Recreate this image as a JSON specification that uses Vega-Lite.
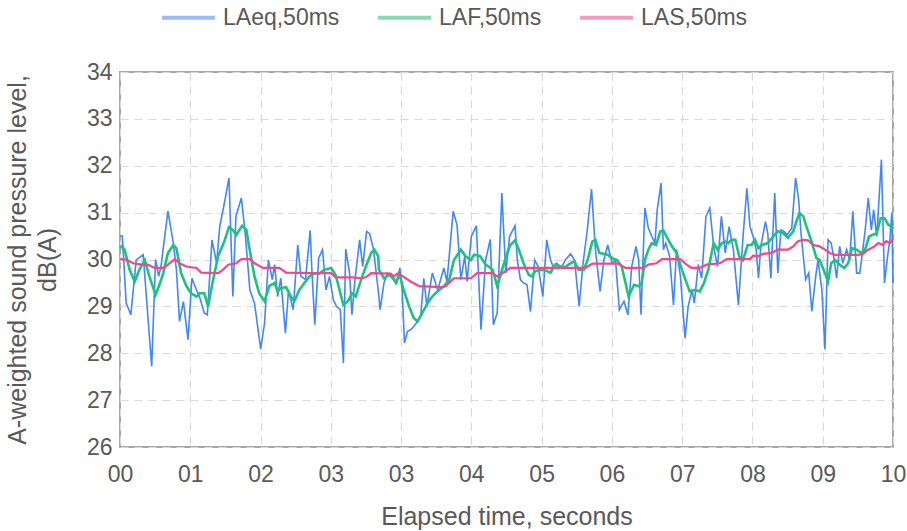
{
  "$schema": "https://vega.github.io/schema/vega-lite/v6.json",
  "width": 773,
  "height": 375,
  "autosize": {"type": "none"},
  "padding": {"left": 120, "top": 72, "right": 14, "bottom": 84},
  "background": "white",
  "config": {
    "font": "Liberation Sans, sans-serif",
    "view": {"stroke": "#A6A6A6", "strokeWidth": 2},
    "axis": {
      "grid": true, "gridColor": "#D9D9D9", "gridDash": [8, 6], "gridWidth": 1.2,
      "domain": false, "ticks": false,
      "labelColor": "#595959", "labelFontSize": 23,
      "titleColor": "#595959", "titleFontSize": 25, "titleFontWeight": "normal"
    }
  },
  "encoding": {
    "x": {
      "field": "t", "type": "quantitative",
      "scale": {"domain": [0, 10], "nice": false, "zero": false},
      "axis": {
        "title": "Elapsed time, seconds",
        "values": [0, 0.90909, 1.81818, 2.72727, 3.63636, 4.54545, 5.45455, 6.36364, 7.27273, 8.18182, 9.09091, 10],
        "labelExpr": "['00','01','02','03','03','04','05','06','07','08','09','10'][round(datum.value*1.1)]",
        "labelPadding": 16, "titlePadding": 18, "labelFlush": false
      }
    },
    "y": {
      "field": "v", "type": "quantitative",
      "scale": {"domain": [26, 34], "nice": false, "zero": false},
      "axis": {
        "title": ["A-weighted sound pressure level,", "dB(A)"],
        "values": [26, 27, 28, 29, 30, 31, 32, 33, 34],
        "labelPadding": 8, "titlePadding": 26, "titleLineHeight": 30
      }
    },
    "color": {
      "type": "nominal",
      "scale": {"domain": ["LAeq,50ms", "LAF,50ms", "LAS,50ms"], "range": ["#4287F5", "#20C07E", "#F2478A"]},
      "legend": {
        "orient": "none", "legendX": 40, "legendY": -83, "direction": "horizontal",
        "title": null, "symbolType": "stroke", "symbolSize": 2800, "symbolStrokeWidth": 4,
        "symbolOpacity": 0.55, "labelFontSize": 23, "labelColor": "#595959",
        "labelOffset": 6, "columnPadding": 30
      }
    }
  },
  "layer": [
    {
      "mark": {"type": "line", "strokeWidth": 1.6, "interpolate": "linear"},
      "encoding": {"color": {"datum": "LAeq,50ms"}},
      "data": {"values": [
        {"t":0.00,"v":30.50},{"t":0.03,"v":30.50},{"t":0.08,"v":29.07},{"t":0.14,"v":28.82},{"t":0.21,"v":29.99},{"t":0.30,"v":30.10},{"t":0.41,"v":27.72},{"t":0.46,"v":30.00},{"t":0.50,"v":29.64},{"t":0.53,"v":29.85},{"t":0.62,"v":31.03},{"t":0.69,"v":30.35},{"t":0.73,"v":29.78},{"t":0.77,"v":28.68},{"t":0.82,"v":29.10},{"t":0.88,"v":28.29},{"t":0.93,"v":29.60},{"t":0.99,"v":29.35},{"t":1.03,"v":29.20},{"t":1.09,"v":28.86},{"t":1.13,"v":28.82},{"t":1.19,"v":30.42},{"t":1.25,"v":29.92},{"t":1.29,"v":30.70},{"t":1.35,"v":31.20},{"t":1.41,"v":31.74},{"t":1.46,"v":29.21},{"t":1.50,"v":30.92},{"t":1.57,"v":31.31},{"t":1.62,"v":30.56},{"t":1.68,"v":29.35},{"t":1.74,"v":29.07},{"t":1.82,"v":28.09},{"t":1.87,"v":28.64},{"t":1.92,"v":29.99},{"t":1.97,"v":29.57},{"t":2.00,"v":29.89},{"t":2.04,"v":29.21},{"t":2.08,"v":29.60},{"t":2.14,"v":28.43},{"t":2.18,"v":29.35},{"t":2.24,"v":28.93},{"t":2.30,"v":30.31},{"t":2.34,"v":29.64},{"t":2.40,"v":29.57},{"t":2.46,"v":30.62},{"t":2.48,"v":29.85},{"t":2.52,"v":28.61},{"t":2.57,"v":30.03},{"t":2.62,"v":30.21},{"t":2.665,"v":29.35},{"t":2.71,"v":29.64},{"t":2.76,"v":29.14},{"t":2.80,"v":29.00},{"t":2.85,"v":28.93},{"t":2.89,"v":27.79},{"t":2.92,"v":30.22},{"t":2.97,"v":29.71},{"t":3.00,"v":28.82},{"t":3.04,"v":29.57},{"t":3.10,"v":30.42},{"t":3.14,"v":29.85},{"t":3.19,"v":30.60},{"t":3.23,"v":30.55},{"t":3.28,"v":30.21},{"t":3.34,"v":29.35},{"t":3.365,"v":28.93},{"t":3.415,"v":29.50},{"t":3.46,"v":29.71},{"t":3.52,"v":29.60},{"t":3.58,"v":29.50},{"t":3.62,"v":29.82},{"t":3.65,"v":29.35},{"t":3.68,"v":28.22},{"t":3.72,"v":28.47},{"t":3.76,"v":28.50},{"t":3.80,"v":28.57},{"t":3.85,"v":28.68},{"t":3.89,"v":28.79},{"t":3.93,"v":29.60},{"t":3.97,"v":29.00},{"t":4.04,"v":29.71},{"t":4.11,"v":29.35},{"t":4.19,"v":29.82},{"t":4.23,"v":29.53},{"t":4.31,"v":31.03},{"t":4.36,"v":30.74},{"t":4.41,"v":29.57},{"t":4.46,"v":30.07},{"t":4.49,"v":29.53},{"t":4.545,"v":30.49},{"t":4.61,"v":30.72},{"t":4.67,"v":28.50},{"t":4.73,"v":29.99},{"t":4.79,"v":30.43},{"t":4.83,"v":28.61},{"t":4.88,"v":28.86},{"t":4.94,"v":31.42},{"t":4.99,"v":29.71},{"t":5.04,"v":30.49},{"t":5.11,"v":30.72},{"t":5.14,"v":29.99},{"t":5.18,"v":29.57},{"t":5.22,"v":29.50},{"t":5.265,"v":29.46},{"t":5.31,"v":28.89},{"t":5.365,"v":29.99},{"t":5.41,"v":29.85},{"t":5.47,"v":29.21},{"t":5.52,"v":30.42},{"t":5.57,"v":29.99},{"t":5.61,"v":29.82},{"t":5.65,"v":29.92},{"t":5.71,"v":29.82},{"t":5.76,"v":29.99},{"t":5.83,"v":30.12},{"t":5.88,"v":29.99},{"t":5.94,"v":29.00},{"t":5.99,"v":29.92},{"t":6.04,"v":30.56},{"t":6.10,"v":31.50},{"t":6.15,"v":30.21},{"t":6.21,"v":29.32},{"t":6.26,"v":29.99},{"t":6.31,"v":30.31},{"t":6.365,"v":29.92},{"t":6.41,"v":29.99},{"t":6.46,"v":28.93},{"t":6.52,"v":29.11},{"t":6.57,"v":28.82},{"t":6.62,"v":29.85},{"t":6.675,"v":30.28},{"t":6.71,"v":29.99},{"t":6.74,"v":28.82},{"t":6.79,"v":31.10},{"t":6.835,"v":30.67},{"t":6.88,"v":30.49},{"t":6.92,"v":30.35},{"t":6.95,"v":31.06},{"t":7.00,"v":31.63},{"t":7.03,"v":30.21},{"t":7.06,"v":30.35},{"t":7.11,"v":30.07},{"t":7.16,"v":29.03},{"t":7.20,"v":30.21},{"t":7.25,"v":29.64},{"t":7.31,"v":28.32},{"t":7.35,"v":29.00},{"t":7.40,"v":29.35},{"t":7.43,"v":29.07},{"t":7.48,"v":29.89},{"t":7.525,"v":29.60},{"t":7.58,"v":30.92},{"t":7.63,"v":31.10},{"t":7.68,"v":30.28},{"t":7.73,"v":29.85},{"t":7.78,"v":30.92},{"t":7.83,"v":30.14},{"t":7.88,"v":30.70},{"t":7.935,"v":30.21},{"t":8.00,"v":29.03},{"t":8.06,"v":30.49},{"t":8.11,"v":31.52},{"t":8.15,"v":30.70},{"t":8.19,"v":30.49},{"t":8.23,"v":30.21},{"t":8.26,"v":29.60},{"t":8.29,"v":30.28},{"t":8.35,"v":30.81},{"t":8.38,"v":30.56},{"t":8.42,"v":29.60},{"t":8.47,"v":31.42},{"t":8.51,"v":29.71},{"t":8.55,"v":30.63},{"t":8.59,"v":30.60},{"t":8.63,"v":30.53},{"t":8.69,"v":30.67},{"t":8.74,"v":31.74},{"t":8.78,"v":31.27},{"t":8.81,"v":30.56},{"t":8.87,"v":29.57},{"t":8.91,"v":29.71},{"t":8.95,"v":28.89},{"t":9.00,"v":29.64},{"t":9.03,"v":29.99},{"t":9.08,"v":29.35},{"t":9.12,"v":28.08},{"t":9.16,"v":30.42},{"t":9.20,"v":30.35},{"t":9.24,"v":29.99},{"t":9.27,"v":29.60},{"t":9.31,"v":30.28},{"t":9.35,"v":29.92},{"t":9.40,"v":30.21},{"t":9.44,"v":29.99},{"t":9.48,"v":31.03},{"t":9.53,"v":29.71},{"t":9.57,"v":29.71},{"t":9.61,"v":30.21},{"t":9.64,"v":30.63},{"t":9.68,"v":31.31},{"t":9.72,"v":30.63},{"t":9.75,"v":31.06},{"t":9.79,"v":30.49},{"t":9.85,"v":32.13},{"t":9.89,"v":29.50},{"t":9.93,"v":30.07},{"t":9.96,"v":30.42},{"t":9.985,"v":31.00},{"t":10.00,"v":29.50}
      ]}
    },
    {
      "mark": {"type": "line", "strokeWidth": 2.6, "interpolate": "linear"},
      "encoding": {"color": {"datum": "LAF,50ms"}},
      "data": {"values": [
        {"t":0.00,"v":30.24},{"t":0.02,"v":30.28},{"t":0.06,"v":30.21},{"t":0.125,"v":29.78},{"t":0.19,"v":29.53},{"t":0.25,"v":29.78},{"t":0.32,"v":29.99},{"t":0.38,"v":29.64},{"t":0.46,"v":29.25},{"t":0.51,"v":29.46},{"t":0.56,"v":29.71},{"t":0.62,"v":30.14},{"t":0.69,"v":30.31},{"t":0.73,"v":30.24},{"t":0.79,"v":29.71},{"t":0.86,"v":29.43},{"t":0.92,"v":29.28},{"t":0.99,"v":29.21},{"t":1.03,"v":29.28},{"t":1.09,"v":29.28},{"t":1.14,"v":29.00},{"t":1.20,"v":29.53},{"t":1.27,"v":30.07},{"t":1.35,"v":30.39},{"t":1.41,"v":30.69},{"t":1.46,"v":30.63},{"t":1.505,"v":30.53},{"t":1.58,"v":30.72},{"t":1.635,"v":30.63},{"t":1.67,"v":30.28},{"t":1.74,"v":29.64},{"t":1.80,"v":29.28},{"t":1.87,"v":29.11},{"t":1.93,"v":29.43},{"t":2.00,"v":29.50},{"t":2.04,"v":29.32},{"t":2.08,"v":29.39},{"t":2.15,"v":29.41},{"t":2.21,"v":29.21},{"t":2.255,"v":29.11},{"t":2.32,"v":29.35},{"t":2.385,"v":29.50},{"t":2.45,"v":29.64},{"t":2.51,"v":29.70},{"t":2.58,"v":29.70},{"t":2.64,"v":29.78},{"t":2.73,"v":29.82},{"t":2.79,"v":29.67},{"t":2.84,"v":29.35},{"t":2.89,"v":29.03},{"t":2.95,"v":29.11},{"t":3.00,"v":29.28},{"t":3.05,"v":29.21},{"t":3.12,"v":29.57},{"t":3.18,"v":29.85},{"t":3.25,"v":30.14},{"t":3.29,"v":30.21},{"t":3.34,"v":30.07},{"t":3.35,"v":29.78},{"t":3.415,"v":29.60},{"t":3.48,"v":29.67},{"t":3.52,"v":29.64},{"t":3.57,"v":29.50},{"t":3.60,"v":29.64},{"t":3.63,"v":29.60},{"t":3.67,"v":29.35},{"t":3.74,"v":29.00},{"t":3.80,"v":28.75},{"t":3.85,"v":28.68},{"t":3.91,"v":28.86},{"t":3.98,"v":29.07},{"t":4.04,"v":29.21},{"t":4.105,"v":29.32},{"t":4.19,"v":29.43},{"t":4.26,"v":29.57},{"t":4.32,"v":29.99},{"t":4.41,"v":30.21},{"t":4.47,"v":30.07},{"t":4.54,"v":29.99},{"t":4.58,"v":30.10},{"t":4.66,"v":30.07},{"t":4.73,"v":29.89},{"t":4.77,"v":29.85},{"t":4.82,"v":29.78},{"t":4.88,"v":29.43},{"t":4.95,"v":29.82},{"t":5.01,"v":30.14},{"t":5.05,"v":30.31},{"t":5.11,"v":30.41},{"t":5.16,"v":30.21},{"t":5.22,"v":29.92},{"t":5.29,"v":29.67},{"t":5.33,"v":29.64},{"t":5.37,"v":29.75},{"t":5.44,"v":29.78},{"t":5.50,"v":29.77},{"t":5.57,"v":29.72},{"t":5.63,"v":29.89},{"t":5.70,"v":29.85},{"t":5.76,"v":29.84},{"t":5.83,"v":29.92},{"t":5.88,"v":29.96},{"t":5.93,"v":29.78},{"t":6.00,"v":29.78},{"t":6.05,"v":29.99},{"t":6.11,"v":30.38},{"t":6.15,"v":30.42},{"t":6.20,"v":30.14},{"t":6.26,"v":30.12},{"t":6.31,"v":30.10},{"t":6.365,"v":30.03},{"t":6.43,"v":29.99},{"t":6.49,"v":29.85},{"t":6.54,"v":29.50},{"t":6.58,"v":29.21},{"t":6.65,"v":29.46},{"t":6.71,"v":29.43},{"t":6.75,"v":29.50},{"t":6.79,"v":29.99},{"t":6.835,"v":30.21},{"t":6.88,"v":30.35},{"t":6.935,"v":30.31},{"t":6.99,"v":30.60},{"t":7.03,"v":30.62},{"t":7.07,"v":30.49},{"t":7.14,"v":30.28},{"t":7.20,"v":30.14},{"t":7.27,"v":29.78},{"t":7.33,"v":29.50},{"t":7.37,"v":29.32},{"t":7.44,"v":29.35},{"t":7.50,"v":29.32},{"t":7.555,"v":29.50},{"t":7.61,"v":29.78},{"t":7.68,"v":30.35},{"t":7.73,"v":30.21},{"t":7.785,"v":30.35},{"t":7.83,"v":30.38},{"t":7.87,"v":30.35},{"t":7.91,"v":30.42},{"t":7.96,"v":30.42},{"t":8.01,"v":30.07},{"t":8.06,"v":29.99},{"t":8.12,"v":30.31},{"t":8.17,"v":30.31},{"t":8.215,"v":30.42},{"t":8.26,"v":30.24},{"t":8.305,"v":30.31},{"t":8.38,"v":30.35},{"t":8.45,"v":30.49},{"t":8.51,"v":30.60},{"t":8.58,"v":30.56},{"t":8.64,"v":30.46},{"t":8.71,"v":30.60},{"t":8.75,"v":30.81},{"t":8.79,"v":30.99},{"t":8.84,"v":30.92},{"t":8.88,"v":30.70},{"t":8.94,"v":30.42},{"t":9.01,"v":30.03},{"t":9.05,"v":29.99},{"t":9.12,"v":29.71},{"t":9.16,"v":29.53},{"t":9.20,"v":29.92},{"t":9.25,"v":29.99},{"t":9.31,"v":29.89},{"t":9.37,"v":29.82},{"t":9.42,"v":29.92},{"t":9.47,"v":30.24},{"t":9.53,"v":30.21},{"t":9.59,"v":30.14},{"t":9.64,"v":30.21},{"t":9.69,"v":30.49},{"t":9.74,"v":30.53},{"t":9.79,"v":30.56},{"t":9.84,"v":30.88},{"t":9.89,"v":30.88},{"t":9.94,"v":30.74},{"t":9.98,"v":30.70},{"t":10.00,"v":30.65}
      ]}
    },
    {
      "mark": {"type": "line", "strokeWidth": 2.2, "interpolate": "linear"},
      "encoding": {"color": {"datum": "LAS,50ms"}},
      "data": {"values": [
        {"t":0.00,"v":30.01},{"t":0.08,"v":30.00},{"t":0.17,"v":29.92},{"t":0.28,"v":29.89},{"t":0.36,"v":29.89},{"t":0.45,"v":29.82},{"t":0.56,"v":29.82},{"t":0.62,"v":29.89},{"t":0.71,"v":30.01},{"t":0.77,"v":29.92},{"t":0.86,"v":29.85},{"t":0.99,"v":29.82},{"t":1.05,"v":29.72},{"t":1.27,"v":29.71},{"t":1.33,"v":29.78},{"t":1.40,"v":29.89},{"t":1.505,"v":29.92},{"t":1.57,"v":30.01},{"t":1.68,"v":30.01},{"t":1.74,"v":29.92},{"t":1.85,"v":29.82},{"t":2.06,"v":29.82},{"t":2.15,"v":29.72},{"t":2.49,"v":29.71},{"t":2.73,"v":29.71},{"t":2.79,"v":29.62},{"t":3.01,"v":29.62},{"t":3.12,"v":29.60},{"t":3.18,"v":29.62},{"t":3.25,"v":29.71},{"t":3.50,"v":29.70},{"t":3.545,"v":29.64},{"t":3.59,"v":29.70},{"t":3.65,"v":29.65},{"t":3.76,"v":29.53},{"t":3.87,"v":29.43},{"t":4.15,"v":29.41},{"t":4.21,"v":29.43},{"t":4.32,"v":29.60},{"t":4.54,"v":29.60},{"t":4.62,"v":29.71},{"t":4.82,"v":29.71},{"t":4.88,"v":29.64},{"t":4.95,"v":29.71},{"t":5.05,"v":29.82},{"t":6.02,"v":29.82},{"t":6.11,"v":29.91},{"t":6.45,"v":29.91},{"t":6.54,"v":29.82},{"t":6.77,"v":29.82},{"t":6.835,"v":29.89},{"t":6.94,"v":29.92},{"t":7.01,"v":30.01},{"t":7.245,"v":30.01},{"t":7.33,"v":29.89},{"t":7.395,"v":29.82},{"t":7.50,"v":29.82},{"t":7.59,"v":29.89},{"t":7.76,"v":29.92},{"t":7.85,"v":30.01},{"t":8.15,"v":30.01},{"t":8.19,"v":30.08},{"t":8.26,"v":30.07},{"t":8.32,"v":30.12},{"t":8.43,"v":30.14},{"t":8.51,"v":30.21},{"t":8.64,"v":30.21},{"t":8.71,"v":30.28},{"t":8.77,"v":30.39},{"t":8.84,"v":30.42},{"t":8.90,"v":30.41},{"t":8.97,"v":30.31},{"t":9.05,"v":30.28},{"t":9.12,"v":30.21},{"t":9.18,"v":30.14},{"t":9.25,"v":30.10},{"t":9.55,"v":30.10},{"t":9.61,"v":30.12},{"t":9.68,"v":30.21},{"t":9.76,"v":30.28},{"t":9.81,"v":30.35},{"t":9.87,"v":30.31},{"t":9.91,"v":30.39},{"t":9.96,"v":30.35},{"t":10.00,"v":30.44}
      ]}
    }
  ]
}
